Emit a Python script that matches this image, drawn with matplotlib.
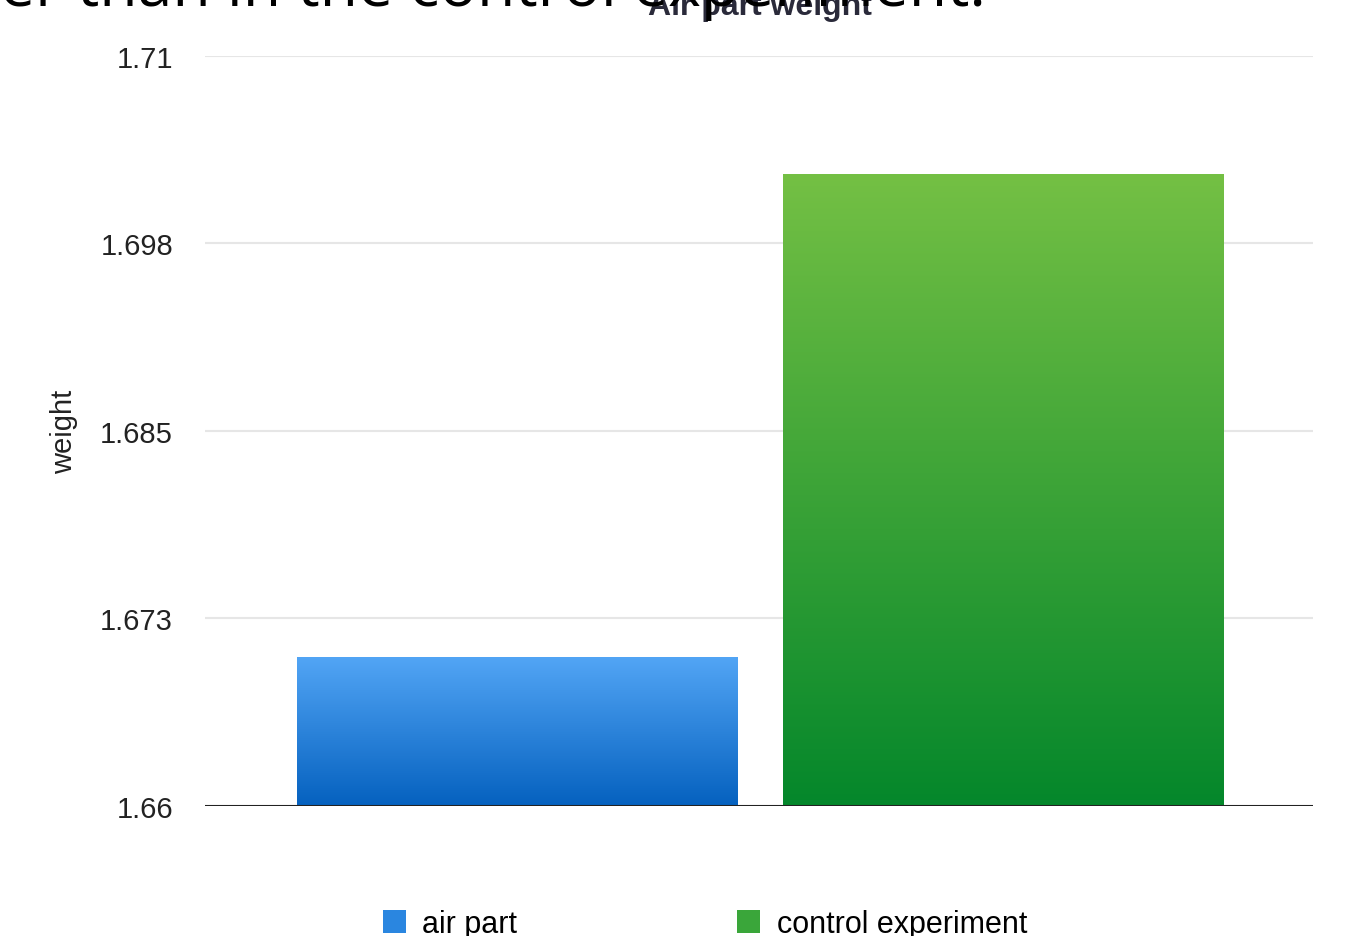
import matplotlib
matplotlib.use("Agg")
import matplotlib.pyplot as plt
import numpy as np
from matplotlib.colors import LinearSegmentedColormap
from matplotlib.patches import Patch

# data
categories = ["air part", "control experiment"]
weights = [1.6699, 1.7021]
tick_values = [1.66, 1.6725, 1.685, 1.6975, 1.71]
tick_labels = ["1.66", "1.673", "1.685", "1.698", "1.71"]
top_colors = ["#52a5f5", "#74c044"]
bottom_colors = ["#0561bf", "#04872b"]
mid_colors = ["#2a86e0", "#3aa63a"]

plt.rcParams["font.family"] = ["Liberation Sans", "DejaVu Sans"]

fig = plt.figure(figsize=(13.48, 9.37), dpi=100)
ax = fig.add_axes([205/1348, 1 - 807/937, (1313-205)/1348, (807-57)/937])

ymin, ymax = 1.66, 1.71
xlim = (-0.643, 1.637)
width = 0.907

# gradient bars
for i, v in enumerate(weights):
    cmap = LinearSegmentedColormap.from_list("g%d" % i, [bottom_colors[i], top_colors[i]])
    grad = np.linspace(0, 1, 256).reshape(-1, 1)
    ax.imshow(grad, cmap=cmap, aspect="auto", origin="lower",
              extent=(i - width/2, i + width/2, ymin, v), zorder=2)

ax.set_xlim(*xlim)
ax.set_ylim(ymin, ymax)

ax.set_yticks(tick_values)
ax.set_yticklabels(tick_labels, fontsize=21, color="#222222")
ax.tick_params(axis="y", length=0, pad=23)
ax.set_xticks([])
for s in ax.spines.values():
    s.set_visible(False)
ax.grid(axis="y", color="#e6e6e6", linewidth=1.5, zorder=0)
ax.axhline(ymin, color="#222222", linewidth=2.2, zorder=3)
ax.set_axisbelow(True)

ax.set_ylabel("weight", fontsize=21, color="#222222", labelpad=16)

handles = [Patch(facecolor=c, edgecolor="none") for c in mid_colors]
fig.legend(handles, categories, loc="center", bbox_to_anchor=(705/1348, 1 - 925/937),
           ncol=2, frameon=False, fontsize=22, handlelength=0.75, handleheight=0.75,
           handletextpad=0.55, columnspacing=7.2)

# chart title and overlapping slide text, both cut at the top edge
fig.text(760/1348, 1 - 15/937, "Air part weight", fontsize=23, fontweight="bold",
         ha="center", va="baseline", color="#2a2a3a")
fig.text(0, 1 - 6/937, "er than in the control experiment.", fontsize=45,
         family=["Open Sans", "DejaVu Sans"], ha="left", va="baseline", color="black")

fig.savefig("out.png", dpi=100)
